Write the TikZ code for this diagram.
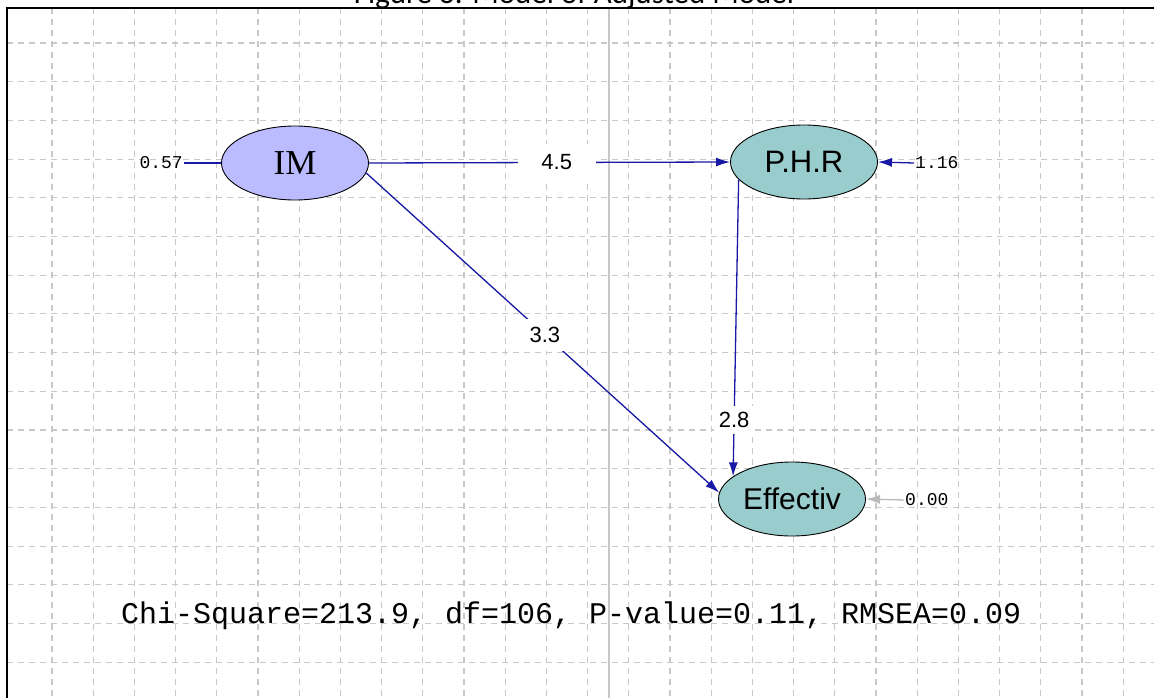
\documentclass[tikz,border=0pt]{standalone}
\usepackage{fontspec}
\usetikzlibrary{arrows.meta,shapes.geometric}
\newfontfamily\monofnt{Liberation Mono}
\newfontfamily\sansfnt{Liberation Sans}
\newfontfamily\seriffnt{Liberation Serif}
\newfontfamily\titlefnt{Carlito}
\definecolor{lblue}{RGB}{24,24,165}
\definecolor{imfill}{RGB}{187,187,255}
\definecolor{tealfill}{RGB}{153,204,204}
\definecolor{gridgray}{RGB}{200,200,200}
\begin{document}
\begin{tikzpicture}[x=1pt,y=-1pt,
  gridline/.style={draw=gridgray,line width=1.1pt,dash pattern=on 6pt off 5pt},
  latent/.style={ellipse,draw=black,line width=0.9pt,minimum width=147pt,minimum height=74pt,inner sep=0pt},
  pathline/.style={draw=lblue,line width=1.3pt},
  tipend/.style={-{Latex[length=14pt,width=9pt]}},
  coef/.style={fill=white,font=\sansfnt\fontsize{22}{22}\selectfont,inner sep=0pt},
  errlab/.style={font=\monofnt\fontsize{18}{18}\selectfont,inner sep=1pt}]
\useasboundingbox (0,0) rectangle (1154,698);
\fill[white] (0,0) rectangle (1154,698);
% title (cut off at top, as in the reference)
\node[font=\titlefnt\fontsize{31}{31}\selectfont,anchor=base] (title) at (574,4) {Figure 3: Model of Adjusted Model};
% grid
\foreach \i in {0,...,26} \draw[gridline] ({52+41.2*\i},8) -- ({52+41.2*\i},698);
\foreach \j in {0,...,16} \draw[gridline] (7,{43+38.7*\j}) -- (1154,{43+38.7*\j});
\draw[draw=gridgray,line width=1.3pt] (609,8) -- (609,698);
% frame
\draw[black,line width=1.5pt] (7,698) -- (7,8) -- (1154,8);
% latent variables
\node[latent,fill=imfill,font=\seriffnt\fontsize{35}{35}\selectfont] (im) at (295,163) {IM};
\node[latent,fill=tealfill,font=\sansfnt\fontsize{31}{31}\selectfont] (phr) at (804,162) {P.H.R};
\node[latent,fill=tealfill,font=\sansfnt\fontsize{30}{30}\selectfont] (eff) at (792,499) {Effectiv};
% error terms
\node[errlab,anchor=east] (e1) at (184,163) {0.57};
\node[errlab,anchor=west] (e2) at (914,163) {1.16};
\node[errlab,anchor=west] (e3) at (904,500) {0.00};
\draw[pathline] (e1.east) -- (im.west);
\draw[pathline,tipend] (e2.west) -- (phr.east);
\draw[draw=gray!55,line width=1.3pt,tipend] (e3.west) -- (eff.east);
% structural paths
\draw[pathline,tipend] (im.east) -- node[coef,pos=0.52,minimum width=78pt,minimum height=36pt] {4.5} (phr.west);
\draw[pathline,tipend] (im.-8) -- node[coef,pos=0.506,minimum width=58pt,minimum height=32pt] {3.3} (eff.175);
\draw[pathline,tipend] (phr.195) -- node[coef,pos=0.81,minimum width=40pt,minimum height=28pt] {2.8} (eff.159);
% fit statistics
\node[font=\monofnt\fontsize{30}{30}\selectfont,anchor=base west,inner sep=0pt] (fit) at (121,623) {Chi-Square=213.9, df=106, P-value=0.11, RMSEA=0.09};
\end{tikzpicture}
\end{document}
